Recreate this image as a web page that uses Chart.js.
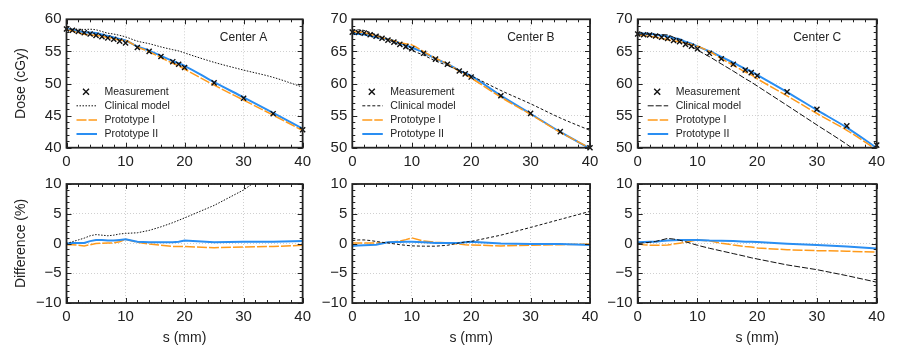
<!DOCTYPE html>
<html>
<head>
<meta charset="utf-8">
<script src="https://cdn.jsdelivr.net/npm/chart.js@4/dist/chart.umd.min.js"></script>
<style>
html, body { margin: 0; padding: 0; background: #fff; }
#wrap { position: relative; width: 899px; height: 360px; overflow: hidden; }
#wrap canvas { position: absolute; }
</style>
</head>
<body>
<div id="wrap"></div>
<script>
// depth along the profile (mm)
const sPos = [0, 1, 2, 3, 4, 5, 6, 7, 8, 9, 10, 12, 14, 16, 18, 19, 20, 25, 30, 35, 40];

// Center A dose (cGy)
const measA    = [58.5, 58.3, 58.1, 57.9, 57.7, 57.5, 57.3, 57.1, 56.9, 56.6, 56.3, 55.6, 55.0, 54.2, 53.4, 53.0, 52.5, 50.1, 47.7, 45.3, 42.8];
const clinA    = [58.5, 58.47, 58.45, 58.42, 58.45, 58.36, 58.1, 57.84, 57.7, 57.5, 57.26, 56.6, 56.2, 55.7, 55.27, 55.07, 54.76, 53.3, 52.09, 50.96, 49.43];
const protoIA  = [58.38, 58.18, 57.93, 57.67, 57.58, 57.5, 57.33, 57.16, 56.96, 56.77, 56.69, 55.71, 54.95, 54.04, 53.13, 52.74, 52.24, 49.75, 47.41, 45.07, 42.67];
const protoIIA = [58.5, 58.36, 58.16, 57.96, 57.93, 57.85, 57.64, 57.39, 57.18, 56.94, 56.69, 55.77, 55.11, 54.31, 53.51, 53.16, 52.76, 50.2, 47.84, 45.44, 42.97];
// Center A difference (%)
const diffClinA = [0, 0.3, 0.6, 0.9, 1.3, 1.5, 1.4, 1.3, 1.4, 1.6, 1.7, 1.8, 2.2, 2.8, 3.5, 3.9, 4.3, 6.4, 9.0, 12.5, 15.5];
const diffIA    = [-0.2, -0.2, -0.3, -0.4, -0.2, 0, 0.05, 0.1, 0.1, 0.3, 0.7, 0.2, -0.1, -0.3, -0.5, -0.5, -0.5, -0.7, -0.6, -0.5, -0.3];
const diffIIA   = [0, 0.1, 0.1, 0.1, 0.4, 0.6, 0.6, 0.5, 0.5, 0.6, 0.7, 0.3, 0.2, 0.2, 0.2, 0.3, 0.5, 0.2, 0.3, 0.3, 0.4];

// Center B
const measB    = [68.0, 67.95, 67.85, 67.6, 67.35, 67.05, 66.75, 66.45, 66.1, 65.75, 65.4, 64.7, 63.8, 63.0, 61.95, 61.5, 61.0, 58.1, 55.35, 52.5, 50.0];
const clinB    = [68.34, 68.36, 68.26, 67.94, 67.59, 67.18, 66.82, 66.42, 65.97, 65.55, 65.14, 64.41, 63.51, 62.81, 62.01, 61.65, 61.21, 58.91, 56.84, 54.63, 52.7];
const protoIB  = [68.07, 68.02, 67.92, 67.67, 67.42, 67.12, 66.88, 66.65, 66.36, 66.18, 66.02, 64.96, 63.93, 63.06, 61.89, 61.38, 60.85, 57.87, 55.18, 52.4, 49.95];
const protoIIB = [67.73, 67.71, 67.65, 67.43, 67.22, 67.05, 66.88, 66.62, 66.27, 65.95, 65.6, 64.83, 63.86, 63.06, 62.01, 61.62, 61.18, 58.1, 55.29, 52.45, 49.88];
const diffClinB = [0.5, 0.6, 0.6, 0.5, 0.35, 0.2, 0.1, -0.05, -0.2, -0.3, -0.4, -0.45, -0.45, -0.3, 0.1, 0.25, 0.35, 1.4, 2.7, 4.05, 5.4];
const diffIB    = [0.1, 0.1, 0.1, 0.1, 0.1, 0.1, 0.2, 0.3, 0.4, 0.65, 0.95, 0.4, 0.2, 0.1, -0.1, -0.2, -0.25, -0.4, -0.3, -0.2, -0.1];
const diffIIB   = [-0.4, -0.35, -0.3, -0.25, -0.2, 0, 0.2, 0.25, 0.25, 0.3, 0.3, 0.2, 0.1, 0.1, 0.1, 0.2, 0.3, 0, -0.1, -0.1, -0.25];

// Center C
const measC    = [67.7, 67.6, 67.55, 67.4, 67.2, 67.0, 66.7, 66.5, 66.1, 65.8, 65.4, 64.7, 63.85, 63.0, 62.1, 61.7, 61.2, 58.7, 56.0, 53.4, 50.4];
const clinC    = [67.7, 67.67, 67.69, 67.64, 67.6, 67.57, 67.2, 66.87, 66.3, 65.8, 65.2, 64.18, 63.05, 61.93, 60.76, 60.22, 59.61, 56.59, 53.54, 50.52, 47.12];
const protoIC  = [67.67, 67.46, 67.35, 67.2, 67.0, 66.83, 66.63, 66.53, 66.23, 66.06, 65.79, 64.99, 63.88, 62.84, 61.79, 61.33, 60.74, 58.08, 55.33, 52.71, 49.67];
const protoIIC = [67.84, 67.77, 67.75, 67.6, 67.47, 67.34, 67.07, 66.9, 66.5, 66.19, 65.79, 65.02, 64.14, 63.25, 62.29, 61.89, 61.35, 58.67, 55.86, 53.13, 49.97];
const diffClinC = [0, 0.1, 0.2, 0.35, 0.6, 0.85, 0.75, 0.55, 0.3, 0, -0.3, -0.8, -1.25, -1.7, -2.15, -2.4, -2.6, -3.6, -4.4, -5.4, -6.5];
const diffIC    = [-0.05, -0.2, -0.3, -0.3, -0.3, -0.25, -0.1, 0.05, 0.2, 0.4, 0.6, 0.45, 0.05, -0.25, -0.5, -0.6, -0.75, -1.05, -1.2, -1.3, -1.45];
const diffIIC   = [0.2, 0.25, 0.3, 0.3, 0.4, 0.5, 0.55, 0.6, 0.6, 0.6, 0.6, 0.5, 0.45, 0.4, 0.3, 0.3, 0.25, -0.05, -0.25, -0.5, -0.85];

const seriesNames = ['Measurement', 'Clinical model', 'Prototype I', 'Prototype II'];
const centerNames = ['Center A', 'Center B', 'Center C'];
const doseRanges = [[40, 60], [50, 70], [50, 70]];

const FONT = '"Liberation Sans", Arial, Helvetica, sans-serif';
const INK = '#222';
const ORANGE = '#ff9a1a';
const BLUE = '#2a8ef2';

Chart.defaults.font.family = FONT;
Chart.defaults.font.size = 15;
Chart.defaults.color = INK;

const pts = ys => sPos.map((s, i) => ({ x: s, y: ys[i] }));

// frame, inward ticks, legend, labels
const panelDeco = {
    id: 'panelDeco',
    afterDatasetsDraw(chart, args, o) {
        const { ctx, chartArea: a, scales: { x, y } } = chart;
        ctx.save();

        if (o.legend) {
            ctx.fillStyle = '#fff';
            ctx.fillRect(a.left + 1, a.top + 64, 104, a.bottom - a.top - 65);
            ctx.font = '10.5px ' + FONT;
            ctx.textBaseline = 'middle';
            ctx.textAlign = 'left';
            chart.data.datasets.forEach((ds, i) => {
                const ly = a.top + 72.4 + i * 14.1;
                if (ds.showLine) {
                    ctx.strokeStyle = ds.borderColor;
                    ctx.lineWidth = ds.borderWidth;
                    ctx.setLineDash(ds.borderDash || []);
                    ctx.beginPath();
                    ctx.moveTo(a.left + 10, ly);
                    ctx.lineTo(a.left + 30.5, ly);
                    ctx.stroke();
                    ctx.setLineDash([]);
                } else {
                    const mx = a.left + 19.5, r = 3;
                    ctx.strokeStyle = ds.borderColor;
                    ctx.lineWidth = ds.borderWidth;
                    ctx.beginPath();
                    ctx.moveTo(mx - r, ly - r); ctx.lineTo(mx + r, ly + r);
                    ctx.moveTo(mx - r, ly + r); ctx.lineTo(mx + r, ly - r);
                    ctx.stroke();
                }
                ctx.fillStyle = INK;
                ctx.fillText(ds.label, a.left + 38, ly + 0.5);
            });
        }

        if (o.center) {
            ctx.font = '12px ' + FONT;
            ctx.fillStyle = INK;
            ctx.textAlign = 'right';
            ctx.textBaseline = 'middle';
            ctx.fillText(o.center, a.right - 35.5, a.top + 18.4);
        }

        // inward ticks on all four sides
        ctx.strokeStyle = INK;
        ctx.lineWidth = 1;
        ctx.beginPath();
        for (let v = x.min; v <= x.max; v += 2) {
            const px = Math.round(x.getPixelForValue(v)) + 0.5;
            const len = v % 10 === 0 ? 5 : 3;
            ctx.moveTo(px, a.bottom); ctx.lineTo(px, a.bottom - len);
            ctx.moveTo(px, a.top); ctx.lineTo(px, a.top + len);
        }
        for (let v = y.min; v <= y.max; v += 1) {
            const py = Math.round(y.getPixelForValue(v)) + 0.5;
            const len = v % 5 === 0 ? 5 : 3;
            ctx.moveTo(a.left, py); ctx.lineTo(a.left + len, py);
            ctx.moveTo(a.right, py); ctx.lineTo(a.right - len, py);
        }
        ctx.stroke();

        ctx.lineWidth = 1.8;
        ctx.strokeRect(a.left, a.top, a.right - a.left, a.bottom - a.top);

        ctx.font = '14px ' + FONT;
        ctx.fillStyle = INK;
        ctx.textAlign = 'center';
        ctx.textBaseline = 'middle';
        if (o.yTitle) {
            ctx.save();
            ctx.translate(21, (a.top + a.bottom) / 2);
            ctx.rotate(-Math.PI / 2);
            ctx.fillText(o.yTitle, 0, 0);
            ctx.restore();
        }
        if (o.xTitle) {
            ctx.fillText(o.xTitle, (a.left + a.right) / 2, o.xTitleY);
        }
        ctx.restore();
    }
};

const cols = [
    { left: 0, width: 316, yw: 66.5, pr: 12 },
    { left: 316, width: 288, yw: 36.3, pr: 14 },
    { left: 602, width: 297, yw: 35.7, pr: 22.3 }
];
const rows = [
    { top: 0, height: 170, pt: 19.3, xh: 22.3 },
    { top: 170, height: 190, pt: 5, xh: 57 }
];
const clinDash = [[1.5, 1.5], [3, 2], [6, 2]];

const doseSets = [
    [measA, clinA, protoIA, protoIIA],
    [measB, clinB, protoIB, protoIIB],
    [measC, clinC, protoIC, protoIIC]
];
const diffSets = [
    [diffClinA, diffIA, diffIIA],
    [diffClinB, diffIB, diffIIB],
    [diffClinC, diffIC, diffIIC]
];

const fmtTick = v => (v < 0 ? '\u2212' + Math.abs(v) : String(v));

function makeChart(col, row, datasets, yMin, yMax, deco) {
    const c = cols[col], r = rows[row];
    const cv = document.createElement('canvas');
    cv.width = c.width; cv.height = r.height;
    cv.style.left = c.left + 'px'; cv.style.top = r.top + 'px';
    cv.style.width = c.width + 'px'; cv.style.height = r.height + 'px';
    document.getElementById('wrap').appendChild(cv);

    new Chart(cv, {
        type: 'scatter',
        data: { datasets },
        options: {
            responsive: false,
            animation: false,
            devicePixelRatio: 1,
            layout: { padding: { left: 0, right: c.pr, top: r.pt, bottom: 0 } },
            plugins: { legend: { display: false }, tooltip: { enabled: false }, panelDeco: deco },
            scales: {
                x: {
                    type: 'linear', min: 0, max: 40,
                    afterFit: s => { s.height = r.xh; },
                    ticks: { stepSize: 10, padding: 5, maxRotation: 0, autoSkip: false, callback: fmtTick },
                    grid: { drawTicks: false, color: '#c4c4c4', lineWidth: 0.8 },
                    border: { display: false, dash: [1, 2] }
                },
                y: {
                    type: 'linear', min: yMin, max: yMax,
                    afterFit: s => { s.width = c.yw; },
                    ticks: { stepSize: 5, padding: 5, callback: fmtTick },
                    grid: { drawTicks: false, color: '#c4c4c4', lineWidth: 0.8 },
                    border: { display: false, dash: [1, 2] }
                }
            }
        },
        plugins: [panelDeco]
    });
}

for (let k = 0; k < 3; k++) {
    const [meas, clin, pI, pII] = doseSets[k];
    const doseData = [
        { label: seriesNames[0], data: pts(meas), showLine: false, pointStyle: 'crossRot',
          pointRadius: 3.6, borderColor: '#111', borderWidth: 1.4, clip: false },
        { label: seriesNames[1], data: pts(clin), showLine: true, pointRadius: 0,
          borderColor: '#111', borderWidth: 1, borderDash: clinDash[k], cubicInterpolationMode: 'monotone' },
        { label: seriesNames[2], data: pts(pI), showLine: true, pointRadius: 0,
          borderColor: ORANGE, borderWidth: 1.5, borderDash: [10, 2], cubicInterpolationMode: 'monotone' },
        { label: seriesNames[3], data: pts(pII), showLine: true, pointRadius: 0,
          borderColor: BLUE, borderWidth: 2, cubicInterpolationMode: 'monotone' }
    ];
    makeChart(k, 0, doseData, doseRanges[k][0], doseRanges[k][1], {
        legend: true, center: centerNames[k], yTitle: k === 0 ? 'Dose (cGy)' : null
    });

    const [dClin, dI, dII] = diffSets[k];
    const diffData = [
        { label: seriesNames[1], data: pts(dClin), showLine: true, pointRadius: 0,
          borderColor: '#111', borderWidth: 1, borderDash: clinDash[k] },
        { label: seriesNames[3], data: pts(dII), showLine: true, pointRadius: 0,
          borderColor: BLUE, borderWidth: 2 },
        { label: seriesNames[2], data: pts(dI), showLine: true, pointRadius: 0,
          borderColor: ORANGE, borderWidth: 1.5, borderDash: [10, 2] }
    ];
    makeChart(k, 1, diffData, -10, 10, {
        legend: false, yTitle: k === 0 ? 'Difference (%)' : null, xTitle: 's (mm)', xTitleY: 168
    });
}
</script>
</body>
</html>
